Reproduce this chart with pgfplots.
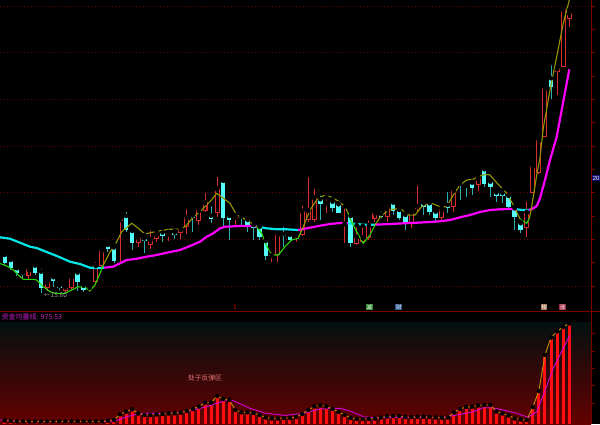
\documentclass[border=0pt]{standalone}
\usepackage{pgfplots}
\pgfplotsset{compat=1.18}
\usepackage{pgfplotstable}
\usepackage{fontspec}
\setmainfont{Liberation Sans}
\newfontfamily\cjk{Noto Sans CJK SC}
\definecolor{upred}{RGB}{215,45,45}
\definecolor{dncyan}{RGB}{84,252,252}
\definecolor{dnwick}{RGB}{40,175,175}
\definecolor{olv}{RGB}{150,150,0}
\definecolor{grn}{RGB}{40,215,0}
\definecolor{mag}{RGB}{255,0,255}
\definecolor{thcyan}{RGB}{0,230,230}
\definecolor{gridred}{RGB}{120,0,0}
\definecolor{dotred}{RGB}{105,0,0}
\definecolor{barred}{RGB}{255,15,15}
\definecolor{orng}{RGB}{200,140,0}
\definecolor{lmag}{RGB}{215,0,215}
\definecolor{gtop}{RGB}{4,16,16}
\definecolor{gbot}{RGB}{100,0,0}
\definecolor{txtmag}{RGB}{200,30,200}
\definecolor{txtpink}{RGB}{230,120,120}

\pgfplotstableread{
i o c h l
4 275.7 269.3 265 279
7 288 282 278.7 291
10 290.7 286.7 286 292
11 287.7 276.7 273.3 290
14 289 287 283.3 291.7
15 281.7 265 260 283.3
16 266 250 246 267.3
19 221.3 219.3 219.3 261.7
22 243.3 237.3 235 246.7
24 245.3 239.3 228.3 249.3
25 238.7 234.3 230.7 241.7
27 235 233.3 231.7 240.7
29 233.3 229 226 239
30 226.7 217.3 207.3 234
32 220.7 210 206.7 225
33 210.7 202.3 190.7 211.7
35 213.3 188.3 175 216.7
38 219.3 216.7 215 225
44 256 255 250 261.7
45 255 234 234 261.7
48 238.3 235 234 241.7
49 235 210.7 203.3 236
50 220 210 175 221.7
51 220 197.3 186.7 221.7
53 204 202.7 197.3 212.7
56 225 223.3 206.7 242.7
58 244.3 236.7 225 245
59 241.7 237.3 225.7 243.3
60 238.3 225 218.3 240
61 219.3 212.7 211.7 221.7
63 216.7 208.3 205 221.7
67 223.3 211.7 211.7 228.3
68 209.3 206 183.3 211.7
72 218.3 209.3 206 221.7
74 206.7 190 186 211.7
78 185 178.3 176.7 190.7
86 228.3 211.7 199.3 236.7
87 192.7 166 163.3 193.3
88 173 140 136 174
89 136.7 88.3 88.3 137.3
91 72.3 68.3 68.3 95
92 66.7 9.3 9.3 66.7
93 19 12.7 10 26.7
}\upc

\pgfplotstableread{
i o c h l
0 255 262.7 252.7 265
1 260 268.3 258 270
2 268.3 272.7 267 276
3 273 275.3 271 278
5 265.7 272.7 261.7 275
6 271.7 288.3 266.7 293.3
8 277.3 281.3 275 286.7
9 286 287.7 283.3 290
12 272.7 281.7 270 290.7
13 285.7 290 283.3 291.7
17 245 249.3 240.7 251.7
18 247.5 261 245 263.3
20 216 230 210 231.7
21 231 242.7 228.3 250
23 238.7 241 235 252.7
26 232.7 236 228.3 241.7
28 232.7 235 230.7 239
31 215.7 217.7 214 231.7
34 215.7 218.7 204.3 223.3
36 180.7 218 180.7 228
37 216 220 214 240
39 216.7 218.3 215 225
40 220 225 218.3 231.7
41 225 228.3 225 240
42 226.7 236.7 225.7 240
43 241 256 240 260
46 234 236 225 247.3
47 235 240 233.3 241.7
52 199.3 204 193.3 220
54 201.7 207.7 199.3 211.7
55 204.3 212.7 203.3 213.3
57 216 243.3 216 246.7
62 214 216.7 209.3 218.3
64 202.7 210.7 201.7 215
65 210 218.3 208.3 220
66 215 223.3 213.3 230
69 203.3 206.7 202.7 215
70 203.3 211.7 201.7 215
71 211.7 218.3 210 221.7
73 205 208.3 190 213.3
75 184 186 184 200
76 185.7 186.7 185.7 196.7
77 182.7 188.3 181.7 195
79 169.3 184 168.3 187.3
80 181.7 186.7 180 196.7
81 192.7 196 190 201.7
82 193.3 196 190 203.3
83 196 206.7 195 208.3
84 208.3 217.3 206.7 230
85 223.3 230 221.7 232.7
90 78.3 87.3 63.3 99.3
}\dnc

\pgfplotstableread{
i v
0 420.5
1 421
2 421.5
3 421.5
4 421.5
5 421.5
6 421.5
7 421.5
8 421.5
9 421.5
10 421.5
11 421.5
12 421.5
13 421.5
14 421.5
15 421.5
16 421.5
17 420.7
18 420
19 414.3
20 411.7
21 409.3
22 413.5
23 415
24 415
25 414.5
26 414
27 413.5
28 413.3
29 412.7
30 411
31 409
32 406.5
33 402.7
34 402.7
35 396
36 399
37 400
38 410
39 412.3
40 412.3
41 413
42 415
43 417.5
44 418.5
45 418.5
46 418
47 418
48 417
49 414
50 410
51 406.5
52 405.5
53 406.5
54 409
55 412
56 415
57 418
58 419
59 419
60 419
61 418.5
62 417.5
63 416.5
64 416
65 416
66 417
67 417
68 416.7
69 416.7
70 417
71 417.5
72 417.7
73 417.5
74 412.5
75 409
76 407
77 406.7
78 405.5
79 405
80 405
81 411.5
82 413.5
83 415.5
84 418.5
85 419.5
86 420
87 407
88 391
89 355
90 337.5
91 331.5
92 327
93 323.5
}\lowtab

\begin{document}
\begin{tikzpicture}[x=1pt,y=1pt]
\useasboundingbox (0,0) rectangle (600,424);
\fill[black] (0,0) rectangle (600,424);
\shade[top color=gtop, bottom color=gbot] (0,0) rectangle (591,101.5);
\foreach \yy in {6,52.7,99.3,146,192.7,239.3,286}
  \draw[dotred, line width=0.6pt, dash pattern=on 0.8pt off 2.6pt] (0,{424-\yy}) -- (591,{424-\yy});
\draw[gridred, line width=1pt] (0,112.3) -- (600,112.3);
\draw[gridred, line width=1pt] (591.5,0) -- (591.5,424);
\foreach \yy in {6,29.3,52.7,76,99.3,122.7,146,169.3,192.7,216,239.3,262.7,286,333.3,351,368.3,385.7,403.3}
  \draw[gridred, line width=0.7pt] (591.5,{424-\yy}) -- (594.5,{424-\yy});

\begin{axis}[at={(0,0)}, anchor=south west, scale only axis, width=600pt, height=424pt,
  xmin=0, xmax=600, ymin=0, ymax=424, y dir=reverse, axis lines=none, clip=true]

% lower panel bars
\addplot[only marks, mark=none, error bars/.cd, y dir=plus, y explicit, error mark=none,
  error bar style={line width=3pt, color=barred}]
  table[x expr={4.7+6.07*\thisrow{i}}, y=v, y error expr={424-\thisrow{v}}] {\lowtab};
\addplot[lmag, line width=0.9pt, mark=none] coordinates {
(0,420) (10,420.5) (33,421.7) (113.3,421.7) (126.7,416.7) (140,413.3) (166.7,413.3)
(186.7,411.7) (206.7,406.7) (226.7,400) (233.3,400.7) (250,408.3) (265,413) (285,415.5)
(305,413) (320,409) (335,408.3) (340,408.3) (350,411) (363.3,416.7) (373.3,417.7)
(406.7,417.3) (440,417.7) (456.7,415) (473.3,411.7) (483.3,407.7) (491.7,407.7)
(503.3,410) (516.7,413.3) (528.3,417.3) (536.7,411.7) (543.3,395) (553.3,368.3)
(563.3,348.3) (570,335)};
\addplot[orng, line width=0.9pt, mark=none]
  table[x expr={4.7+6.07*\thisrow{i}}, y=v] {\lowtab};

% candles: down (cyan filled)
\addplot[only marks, mark=none, error bars/.cd, y dir=plus, y explicit, error mark=none,
  error bar style={line width=0.9pt, color=dnwick}]
  table[x expr={4.7+6.07*\thisrow{i}}, y=h, y error expr={\thisrow{l}-\thisrow{h}}] {\dnc};
\addplot[only marks, mark=none, error bars/.cd, y dir=plus, y explicit, error mark=none,
  error bar style={line width=4.4pt, color=dncyan}]
  table[x expr={4.7+6.07*\thisrow{i}}, y=o, y error expr={max(\thisrow{c}-\thisrow{o},1)}] {\dnc};
% candles: up (red hollow)
\addplot[only marks, mark=none, error bars/.cd, y dir=plus, y explicit, error mark=none,
  error bar style={line width=1pt, color=upred}]
  table[x expr={4.7+6.07*\thisrow{i}}, y=h, y error expr={\thisrow{l}-\thisrow{h}}] {\upc};
\addplot[only marks, mark=none, error bars/.cd, y dir=plus, y explicit, error mark=none,
  error bar style={line width=5pt, color=upred}]
  table[x expr={4.7+6.07*\thisrow{i}}, y=c, y error expr={max(\thisrow{o}-\thisrow{c},1.2)}] {\upc};
\addplot[only marks, mark=none, error bars/.cd, y dir=plus, y explicit, error mark=none,
  error bar style={line width=2.9pt, color=black}]
  table[x expr={4.7+6.07*\thisrow{i}}, y expr={\thisrow{c}+1}, y error expr={max(\thisrow{o}-\thisrow{c}-2,0)}] {\upc};

% thick line
\addplot[thcyan, line width=2.2pt, mark=none] coordinates {
(0,237.3) (10,238.7) (20,242.7) (30,246.7) (36.7,248) (50,253.3) (60,257.3) (70,261.7)
(80,264) (90,267.7) (100,268) (104,267.7)};
\addplot[mag, line width=2.2pt, mark=none] coordinates {
(104,267.7) (113,266.7) (120,263.3) (126.7,260) (136.7,258.7) (146.7,256.7) (156.7,255)
(166.7,252.7) (180,250) (190,246) (200,241.7) (206.7,236.7) (213.3,233.3) (220,228.3)
(225,226.7) (230,226.5) (240,226) (253.3,226) (257,226.5)};
\addplot[thcyan, line width=2.2pt, mark=none] coordinates {
(257,226.5) (266.7,228.3) (276.7,229.3) (286.7,229.3) (298,230)};
\addplot[mag, line width=2.2pt, mark=none] coordinates {
(298,230) (310,227.7) (320,225.7) (330,224) (340,223) (348,223.3)};
\addplot[thcyan, line width=2.2pt, mark=none] coordinates {
(348,223.3) (356.7,224) (363.3,224.7) (375,224.7)};
\addplot[mag, line width=2.2pt, mark=none] coordinates {
(375,224.7) (390,224) (403.3,223.3) (416.7,222.7) (430,222) (440,221.3) (450,220)
(460,217.3) (470,215) (480,212) (490,210) (500,209.3) (510,209) (517,209.3)};
\addplot[thcyan, line width=2.2pt, mark=none] coordinates {
(517,209.3) (522,210) (529,210)};
\addplot[mag, line width=2.2pt, mark=none] coordinates {
(529,210) (533.3,208.3) (536.7,206) (540,198.3) (545,180) (550,160) (556.7,136.7)
(561.7,110) (566.7,83.3) (569.3,69.3)};

% thin line
\addplot[grn, line width=1.1pt, mark=none] coordinates {
(0,263.5) (6.7,266) (13.3,270) (18.3,275) (23.3,279.3) (33.3,279.3) (36.7,280) (43.3,286.7)
(50,291.7) (55,293.3) (65,293.3) (71.7,290) (78.3,286.7) (85,287.3) (90,290.7) (95,285)
(100,273.3) (103.3,265)};
\addplot[olv, line width=1.1pt, mark=none] coordinates {
(103.3,265) (110,252) (115,245) (121.7,231.7) (131.7,223.3) (138.3,228.3) (145,234)
(155,231.7) (168.3,229.3) (180,229) (185,226.7) (193.3,217.3) (201.7,210) (210,201.7)
(216.7,193.3) (223.3,198.3) (230,203.3) (236.7,215) (246.7,220) (256.7,226.7)};
\addplot[grn, line width=1.1pt, mark=none] coordinates {
(256.7,226.7) (261.7,233.3) (266.7,246) (271.7,255) (278.3,255) (285,246.7) (291.7,240)
(298.3,238.3) (300.5,233)};
\addplot[olv, line width=1.1pt, mark=none] coordinates {
(300.5,233) (303.3,226.7) (310,210) (316.7,200) (323.3,195.7) (330,196.5) (338.3,201)
(345,206.7) (348,213)};
\addplot[grn, line width=1.1pt, mark=none] coordinates {
(348,213) (350,218.3) (356.7,231.7) (363.3,243.3) (370,235) (375,225)};
\addplot[olv, line width=1.1pt, mark=none] coordinates {
(375,225) (380,217.3) (388.3,210) (400,208.3) (408.3,215) (415,215) (421.7,206.7)
(430,202.7) (440,206.7) (446.7,206.7) (453.3,195) (460,185) (466.7,180) (473.3,179.3)
(478.3,176.7) (485,174.3) (490,175) (496.7,182.7) (506.7,193.3) (513.3,205) (520,219)};
\addplot[grn, line width=1.1pt, mark=none] coordinates {
(520,219) (526.7,223.3) (529.5,218)};
\addplot[olv, line width=1.1pt, mark=none] coordinates {
(529.5,218) (531.7,206.7) (536.7,175) (540,158) (543.3,128) (550,90) (556.7,56.7)
(563.3,23.3) (569.3,0)};
\end{axis}

% texts
\node[anchor=west, inner sep=0, text=txtmag, font=\cjk\fontsize{7}{8}\selectfont] at (1.5,107.3) {资金均量线: 975.53};
\node[inner sep=0, text=txtpink, font=\cjk\fontsize{6.8}{8}\selectfont] at (205,46) {处于反弹区};
\node[anchor=west, inner sep=0, text=gray!80, font=\cjk\fontsize{6.5}{7}\selectfont] at (44,128.5) {←15.60};
\node[inner sep=0, text=red!85!black, font=\cjk\fontsize{6}{7}\selectfont] at (235,117) {\$};
\node[inner sep=0.6pt, fill={rgb,255:red,50;green,140;blue,50}, text=white!85, font=\cjk\fontsize{5.5}{6}\selectfont] at (369.3,116.7) {减};
\node[inner sep=0.6pt, fill={rgb,255:red,45;green,85;blue,140}, text=white!85, font=\cjk\fontsize{5.5}{6}\selectfont] at (398.8,116.7) {财};
\node[inner sep=0.6pt, fill={rgb,255:red,160;green,115;blue,80}, text=white!85, font=\cjk\fontsize{5.5}{6}\selectfont] at (544,116.7) {榜};
\node[inner sep=0.6pt, fill={rgb,255:red,160;green,45;blue,70}, text=white!85, font=\cjk\fontsize{5.5}{6}\selectfont] at (562.5,116.7) {涨};
\node[anchor=west, inner sep=0.7pt, fill={rgb,255:red,10;green,10;blue,110}, text=white!80, font=\fontsize{6}{7}\selectfont] at (592,246) {20};
\end{tikzpicture}
\end{document}
